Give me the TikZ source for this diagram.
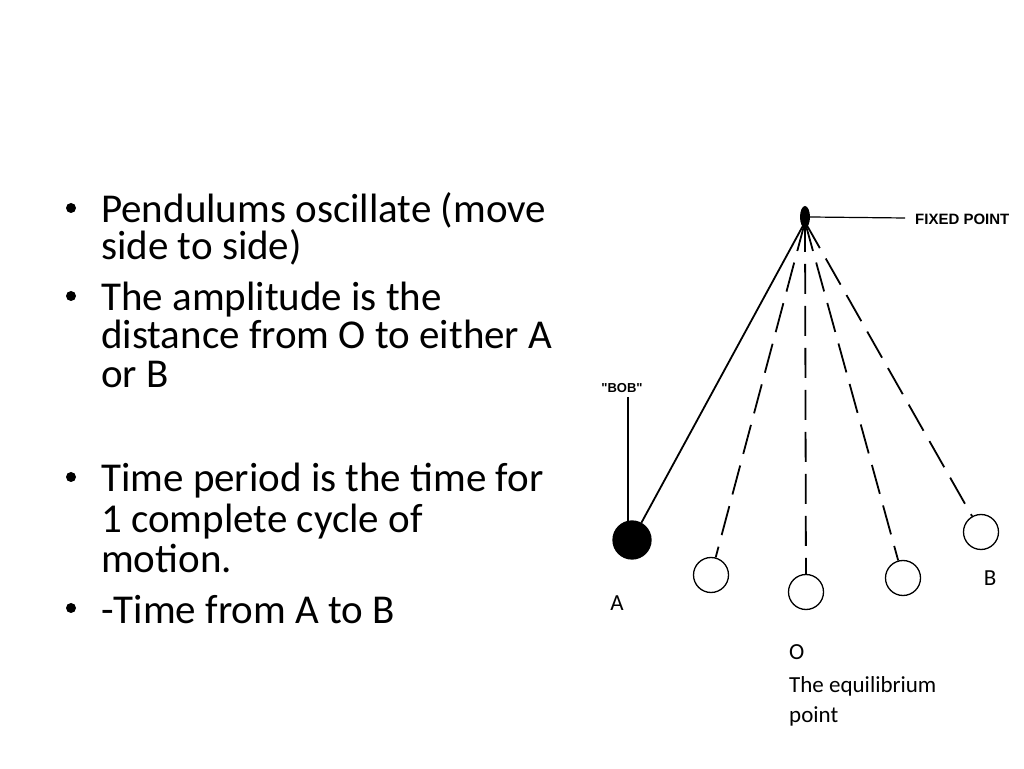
\documentclass[tikz,border=0pt]{standalone}
\usetikzlibrary{shapes.geometric}
\usepackage{fontspec}
\setmainfont{Carlito}
\newfontfamily\arialf{Liberation Sans}
\begin{document}
\begin{tikzpicture}[x=1pt,y=1pt,
  txt/.style={anchor=base west,inner sep=0pt,font=\fontsize{41}{44}\selectfont},
  lbl/.style={inner sep=0pt,font=\fontsize{23}{26}\selectfont},
  caplbl/.style={inner sep=0pt,font=\arialf\fontsize{15}{17}\selectfont},
  bob/.style={circle,draw,line width=1.3pt,minimum size=35pt,inner sep=0pt},
  str/.style={line width=1.8pt},
  dstr/.style={line width=1.8pt,dash pattern=on 30pt off 12pt}]
\useasboundingbox (0,0) rectangle (1024,768);
% bullets
\foreach \y in {223,311,492,623} \fill (71,768-\y+15) circle (5pt);
\node[txt] (t1) at (101,768-223) {Pendulums oscillate (move};
\node[txt] (t2) at (101,768-260) {side to side)};
\node[txt] (t3) at (101,768-311) {The amplitude is the};
\node[txt] (t4) at (101,768-349) {distance from O to either A};
\node[txt] (t5) at (101,768-388) {or B};
\node[txt] (t6) at (101,768-492) {Time period is the time for};
\node[txt] (t7) at (101,768-533) {1 complete cycle of};
\node[txt] (t8) at (101,768-573) {motion.};
\node[txt] (t9) at (101,768-623) {-Time from A to B};
% pendulum
\node[ellipse,fill,minimum width=10pt,minimum height=22pt,inner sep=0pt] (piv) at (805,768-217) {};
\coordinate (p) at (805,768-222);
\node[bob,fill=black,minimum size=38pt] (b1) at (632,768-540) {};
\node[bob] (b2) at (711,768-575) {};
\node[bob] (b3) at (806,768-592) {};
\node[bob] (b4) at (903,768-578) {};
\node[bob] (b5) at (981,768-532) {};
\draw[str] (p) -- (b1);
\draw[dstr] (p) -- (b2);
\draw[dstr] (p) -- (b3);
\draw[dstr] (p) -- (b4);
\draw[dstr] (p) -- (b5);
\node[caplbl,anchor=west] (fp) at (915,768-219) {\textbf{FIXED POINT}};
\coordinate (fe) at (905,768-218);
\draw[line width=1.2pt] (piv.east) -- (fe);
\node[caplbl,font=\arialf\fontsize{13}{15}\selectfont] (bl) at (622,768-388) {\textbf{"BOB"}};
\coordinate (bt) at (628,768-397);
\coordinate (bb) at (628,768-522);
\draw[line width=1.2pt] (bt) -- (bb);
\node[lbl] (la) at (617,768-603) {A};
\node[lbl] (lb) at (990,768-578) {B};
\node[lbl,anchor=west] (lo) at (789,768-652) {O};
\node[lbl,anchor=west] (le) at (789,768-686) {The equilibrium};
\node[lbl,anchor=west] (lp) at (789,768-716) {point};
\end{tikzpicture}
\end{document}
